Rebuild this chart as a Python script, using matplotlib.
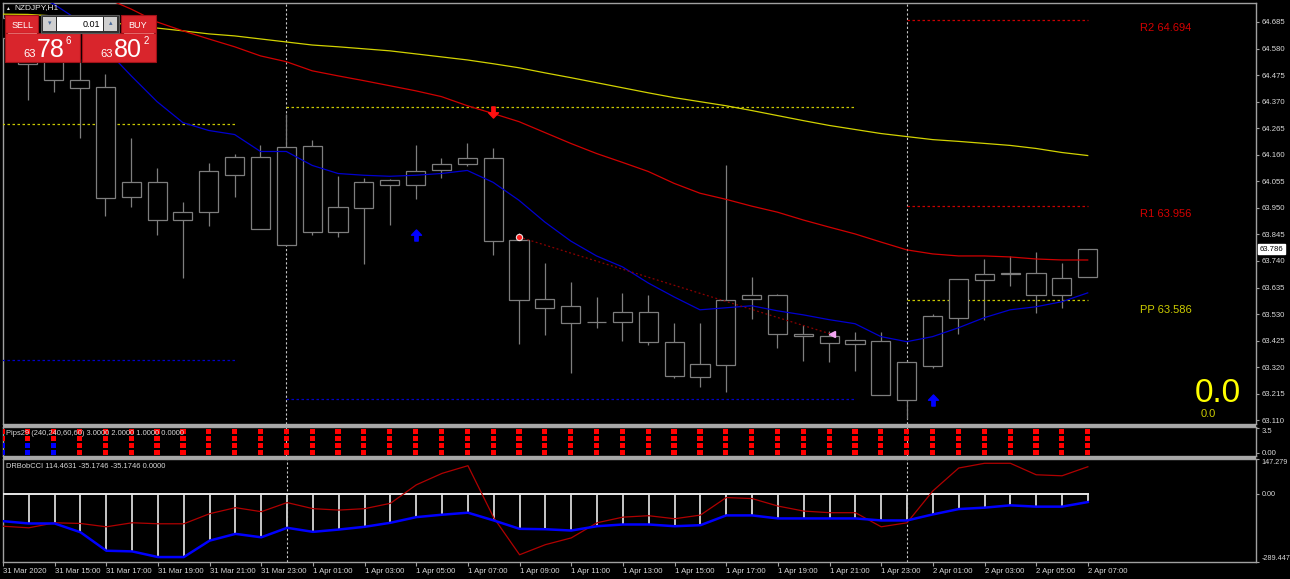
import numpy as np
import matplotlib
matplotlib.use('Agg')
import matplotlib.pyplot as plt
from matplotlib.patches import Rectangle
from matplotlib.path import Path
from matplotlib.transforms import blended_transform_factory

plt.rcParams['font.family'] = ['Liberation Sans', 'DejaVu Sans']

# hourly bars, 31 Mar 2020 13:00 .. 2 Apr 2020 07:00
opens = [64.70, 64.62, 64.56, 64.455, 64.426, 63.993, 64.052, 63.901, 63.933, 64.080,
         64.151, 63.803, 64.196, 63.855, 63.951, 64.042, 64.042, 64.098, 64.125, 64.148,
         63.823, 63.590, 63.563, 63.499, 63.499, 63.539, 63.420, 63.281, 63.328, 63.588,
         63.604, 63.453, 63.442, 63.412, 63.422, 63.190, 63.325, 63.516, 63.665, 63.690,
         63.691, 63.605, 63.676]
highs = [64.74, 64.68, 64.60, 64.54, 64.48, 64.227, 64.109, 63.975, 64.126, 64.164,
         64.199, 64.322, 64.220, 64.077, 64.067, 64.063, 64.199, 64.148, 64.206, 64.185,
         63.851, 63.731, 63.655, 63.598, 63.612, 63.607, 63.493, 63.493, 64.118, 63.677,
         63.610, 63.485, 63.462, 63.458, 63.458, 63.345, 63.531, 63.667, 63.748, 63.760,
         63.774, 63.731, 63.788]
lows = [64.50, 64.378, 64.409, 64.228, 63.918, 63.954, 63.842, 63.672, 63.878, 63.993,
        63.867, 63.803, 63.844, 63.835, 63.730, 63.882, 63.985, 64.069, 64.117, 63.764,
        63.411, 63.446, 63.298, 63.475, 63.424, 63.409, 63.278, 63.243, 63.221, 63.512,
        63.395, 63.344, 63.340, 63.306, 63.211, 63.114, 63.315, 63.453, 63.505, 63.643,
        63.533, 63.554, 63.676]
closes = [64.62, 64.52, 64.457, 64.424, 63.991, 64.052, 63.901, 63.934, 64.094, 64.151,
          63.867, 64.192, 63.853, 63.954, 64.052, 64.059, 64.096, 64.125, 64.148, 63.819,
          63.587, 63.555, 63.495, 63.500, 63.539, 63.418, 63.285, 63.331, 63.585, 63.604,
          63.450, 63.442, 63.414, 63.428, 63.211, 63.341, 63.522, 63.667, 63.689, 63.691,
          63.605, 63.674, 63.786]

ma_fast = [64.86, 64.80, 64.756, 64.689, 64.579, 64.472, 64.370, 64.287, 64.256, 64.240,
           64.173, 64.173, 64.118, 64.086, 64.079, 64.075, 64.079, 64.086, 64.098, 64.051,
           63.980, 63.894, 63.819, 63.760, 63.717, 63.653, 63.598, 63.547, 63.555, 63.563,
           63.543, 63.527, 63.508, 63.492, 63.441, 63.421, 63.441, 63.476, 63.516, 63.547,
           63.559, 63.579, 63.614]
ma_mid = [64.95, 64.90, 64.86, 64.82, 64.78, 64.736, 64.685, 64.650, 64.618, 64.587,
          64.551, 64.528, 64.492, 64.472, 64.453, 64.433, 64.413, 64.390, 64.354, 64.323,
          64.291, 64.248, 64.205, 64.165, 64.130, 64.094, 64.047, 64.008, 63.984, 63.957,
          63.933, 63.902, 63.874, 63.847, 63.815, 63.784, 63.768, 63.760, 63.760, 63.756,
          63.748, 63.744, 63.744]
ma_slow = [64.716, 64.715, 64.709, 64.697, 64.685, 64.673, 64.661, 64.650, 64.638, 64.630,
           64.618, 64.606, 64.594, 64.587, 64.579, 64.571, 64.559, 64.547, 64.535, 64.520,
           64.504, 64.484, 64.465, 64.445, 64.425, 64.405, 64.386, 64.370, 64.354, 64.335,
           64.315, 64.295, 64.276, 64.260, 64.244, 64.232, 64.220, 64.213, 64.205, 64.197,
           64.185, 64.169, 64.157]

# pivot segments (first bar, last bar, level)
piv_start = [0, 0, 11, 11, 35, 35, 35]
piv_end = [9, 9, 33, 33, 42, 42, 42]
piv_level = [64.281, 63.349, 64.348, 63.193, 64.694, 63.956, 63.586]
piv_names = ['', '', '', '', 'R2', 'R1', 'PP']

buy_bars = [16, 36]
buy_price = [63.843, 63.190]
sell_bars = [19]
sell_price = [64.329]
trend_bars = [20, 32.1]
trend_price = [63.835, 63.450]

cci_red = [-137.7, -144.5, -123.1, -126.1, -140.2, -123.1, -127.4, -127.4, -84.7, -59.0,
           -76.1, -37.6, -63.3, -69.3, -63.3, -40.6, 37.6, 86.4, 118.9, -101.8,
           -258.7, -215.9, -187.3, -123.1, -99.2, -93.2, -106.0, -90.6, -16.2, -20.5,
           -52.2, -73.5, -80.4, -80.4, -140.2, -123.1, 12.0, 109.0, 129.1, 129.1,
           80.4, 76.1, 114.4631]
cci_blue = [-116.3, -126.1, -126.1, -163.3, -241.6, -244.5, -268.5, -268.5, -198.8, -170.2,
            -184.7, -144.5, -161.6, -151.8, -140.2, -123.1, -99.2, -88.9, -80.4, -113.3,
            -148.8, -150.5, -156.0, -137.7, -130.4, -130.4, -137.7, -133.4, -91.9, -91.9,
            -104.7, -104.7, -104.7, -104.7, -113.3, -113.3, -87.6, -65.0, -59.0, -49.2,
            -54.7, -54.7, -35.1746]

pips_levels = [3, 2, 1, 0]
pips_upper = ['r'] * 43
pips_lower = ['b'] * 3 + ['r'] * 40

day_breaks = [11, 35]
time_ticks = list(range(0, 43, 2))
time_labels = ['31 Mar 2020', '31 Mar 15:00', '31 Mar 17:00', '31 Mar 19:00', '31 Mar 21:00',
               '31 Mar 23:00', '1 Apr 01:00', '1 Apr 03:00', '1 Apr 05:00', '1 Apr 07:00',
               '1 Apr 09:00', '1 Apr 11:00', '1 Apr 13:00', '1 Apr 15:00', '1 Apr 17:00',
               '1 Apr 19:00', '1 Apr 21:00', '1 Apr 23:00', '2 Apr 01:00', '2 Apr 03:00',
               '2 Apr 05:00', '2 Apr 07:00']
price_ticks = [64.685, 64.580, 64.475, 64.370, 64.265, 64.160, 64.055, 63.950,
               63.845, 63.740, 63.635, 63.530, 63.425, 63.320, 63.215, 63.110]

W, H = 1290, 579
fig = plt.figure(figsize=(W / 100, H / 100), dpi=100, facecolor='black')


def box(l, t, r, b):
    return [l / W, 1 - b / H, (r - l) / W, (b - t) / H]


main = fig.add_axes(box(3, 3, 1256, 424))
pips = fig.add_axes(box(3, 427, 1256, 456))
cci = fig.add_axes(box(3, 459, 1256, 562))

FRAME = '#A0A0A0'
TXT = '#D8D8D8'
CANDLE = '#7E7E7E'
x = np.arange(len(closes))

for ax in (main, pips, cci):
    ax.set_facecolor('black')
    ax.set_xlim(0.04, 48.51)
    for s in ax.spines.values():
        s.set_color(FRAME)
        s.set_linewidth(1)
    ax.tick_params(axis='x', bottom=False, labelbottom=False)
    ax.yaxis.tick_right()
    ax.tick_params(axis='y', colors=FRAME, labelcolor=TXT, labelsize=5.6,
                   length=2.5, width=0.8, pad=1.8)
    for d in day_breaks:
        ax.axvline(d, color='#C8C8C8', lw=0.8, ls=(0, (2, 2)), zorder=2)

# ---- main price window ----
main.set_ylim(63.0955, 64.7601)
main.set_yticks(price_ticks, [f'{t:.3f}' for t in price_ticks])

body_lo = np.minimum(opens, closes)
body_hi = np.maximum(opens, closes)
main.vlines(x, lows, highs, color=CANDLE, lw=0.9, zorder=3)
for xi, lo, hi in zip(x, body_lo, body_hi):
    main.add_patch(Rectangle((xi - 0.37, lo), 0.74, max(hi - lo, 0.0008),
                             fc='black', ec=CANDLE, lw=0.9, zorder=4))

main.plot(x, ma_slow, color='#D2D200', lw=0.9, zorder=5)
main.plot(x, ma_mid, color='#D00000', lw=0.9, zorder=5)
main.plot(x, ma_fast, color='#0000D0', lw=0.9, zorder=5)

piv_colors = ['#C8C800', '#0000C8', '#C8C800', '#0000C8', '#C80000', '#C80000', '#C8C800']
label_colors = {'R2': '#D40000', 'R1': '#D40000', 'PP': '#CCCC00'}
for s, e, lv, c, nm in zip(piv_start, piv_end, piv_level, piv_colors, piv_names):
    main.hlines(lv, s, e, color=c, lw=0.9, linestyles=(0, (2, 2)), zorder=3)
    if nm:
        off = -13 if nm == 'PP' else -11
        main.annotate(f'{nm} {lv:.3f}', xy=(44.02, lv), xytext=(0, off * 0.72),
                      textcoords='offset points', va='baseline', ha='left',
                      fontsize=8, color=label_colors[nm])

main.plot(trend_bars, trend_price, color='#8C0000', lw=0.9, ls=(0, (1.5, 2)), zorder=5)

up_arrow = Path([(0, 1), (0.9, 0.05), (0.3, 0.05), (0.3, -1), (-0.3, -1),
                 (-0.3, 0.05), (-0.9, 0.05), (0, 1)], closed=True)
down_arrow = Path([(px, -py) for px, py in up_arrow.vertices], closed=True)
main.plot(buy_bars, buy_price, ls='none', marker=up_arrow, ms=8, color='#0000FF', zorder=6)
main.plot(sell_bars, sell_price, ls='none', marker=down_arrow, ms=8, color='#FF1010', zorder=6)
main.plot(trend_bars[:1], trend_price[:1], ls='none', marker='o', ms=4.5, mfc='#FF2020',
          mec='#F0E0E0', mew=0.8, zorder=6)
main.plot(trend_bars[1:], trend_price[1:], ls='none', marker='<', ms=5, mfc='#F4A6F4',
          mec='#F4A6F4', zorder=6)

bt = blended_transform_factory(main.transAxes, main.transData)
main.text(1.0028, closes[-1], f'{closes[-1]:.3f}', transform=bt, fontsize=5.6, color='black',
          va='center', ha='left', zorder=8,
          bbox=dict(fc='white', ec='white', pad=1.0))

main.text(0.9697, 0.0523, '0.0', transform=main.transAxes, fontsize=24, color='#FFFF00',
          ha='center', va='baseline')
main.text(0.9617, 0.0166, '0.0', transform=main.transAxes, fontsize=8, color='#CCCC00',
          ha='center', va='baseline')

# ---- Pips29 window ----
pips.set_ylim(-0.5, 3.643)
pips.set_yticks([3.5, 0], ['3.5', '0.00'])
pips.get_yticklabels()[0].set_va('top')
cmap = {'r': '#FF0000', 'b': '#0000FF'}
for lv in pips_levels:
    states = pips_upper if lv >= 2 else pips_lower
    pips.scatter(x, [lv] * len(x), s=14, marker='s', c=[cmap[c] for c in states],
                 linewidths=0, zorder=3)
pips.text(0.0024, 0.76, 'Pips29 (240,240,60,60) 3.0000 2.0000 1.0000 0.0000',
          transform=pips.transAxes, fontsize=5.4, color=TXT, va='center', zorder=5)

# ---- DRBobCCI window ----
cci.set_ylim(-289.447, 147.279)
cci.set_yticks([147.279, 0, -289.447], ['147.279', '0.00', '-289.447'])
cci.tick_params(axis='y', labelsize=5.2, pad=1.4)
cci.get_yticklabels()[0].set_va('top')
cci.get_yticklabels()[2].set_va('bottom')
cci.vlines(x, 0, cci_blue, color='#C8C8C8', lw=1.4, zorder=3)
cci.plot(x, np.zeros(len(x)), color='#E8E8E8', lw=1.4, zorder=3)
cci.plot(x, cci_red, color='#B00000', lw=0.9, zorder=4)
cci.plot(x, cci_blue, color='#0000FF', lw=1.8, zorder=5)
cci.text(0.0024, 0.93, 'DRBobCCI 114.4631 -35.1746 -35.1746 0.0000',
         transform=cci.transAxes, fontsize=5.4, color=TXT, va='center')

cci.set_xticks(time_ticks, time_labels)
cci.tick_params(axis='x', bottom=True, labelbottom=True, colors=FRAME, labelcolor=TXT,
                labelsize=5.6, length=3, width=0.8, pad=1.5)
for t in cci.get_xticklabels():
    t.set_ha('left')

# ---- overlay: separators, symbol label, one-click trading panel ----
ov = fig.add_axes([0, 0, 1, 1])
ov.set_xlim(0, W)
ov.set_ylim(H, 0)
ov.axis('off')
ov.set_zorder(20)
ov.patch.set_visible(False)

ov.add_patch(Rectangle((3, 424), 1253, 3, fc='#A8A8A8', ec='none'))
ov.add_patch(Rectangle((3, 456), 1253, 3, fc='#A8A8A8', ec='none'))

ov.text(5, 8, '▲', fontsize=3.5, color='#E8E8E8', va='center', ha='left')
ov.text(14, 8, 'NZDJPY,H1', fontsize=6, color='#E8E8E8', va='center', ha='left')

RED = '#D9252C'
EDGE = '#9E1218'
for (x0, y0, w, h) in [(5, 15, 33, 18), (121, 15, 35, 18), (5, 33, 75, 29), (82, 33, 74, 29)]:
    ov.add_patch(Rectangle((x0, y0), w, h, fc=RED, ec=EDGE, lw=0.8))
ov.plot([8, 36], [33, 33], color='#F07A7A', lw=0.6)
ov.plot([124, 153], [33, 33], color='#F07A7A', lw=0.6)
ov.add_patch(Rectangle((41, 15), 78, 18, fc='#303030', ec='#5A5A5A', lw=0.8))
ov.add_patch(Rectangle((43, 17), 13, 14, fc='#CFCFCF', ec='none'))
ov.add_patch(Rectangle((104, 17), 13, 14, fc='#CFCFCF', ec='none'))
ov.add_patch(Rectangle((57, 17), 46, 14, fc='white', ec='none'))
ov.text(49.5, 24, '▾', fontsize=5, color='#4A6A9A', ha='center', va='center')
ov.text(110.5, 24, '▴', fontsize=5, color='#4A6A9A', ha='center', va='center')
ov.text(100, 24.5, '0.01', fontsize=6.5, color='black', ha='right', va='center')

ov.text(12, 25, 'SELL', fontsize=6.5, color='white', ha='left', va='center')
ov.text(128, 25, 'BUY', fontsize=6.5, color='white', ha='left', va='center')
ov.text(23, 57, '63', fontsize=8, color='white', ha='left', va='baseline')
ov.text(37, 57, '78', fontsize=18, color='white', ha='left', va='baseline')
ov.text(66, 36, '6', fontsize=7, color='white', ha='left', va='top')
ov.text(100, 57, '63', fontsize=8, color='white', ha='left', va='baseline')
ov.text(114, 57, '80', fontsize=18, color='white', ha='left', va='baseline')
ov.text(144, 36, '2', fontsize=7, color='white', ha='left', va='top')

fig.savefig('out.png', dpi=100, facecolor='black')
